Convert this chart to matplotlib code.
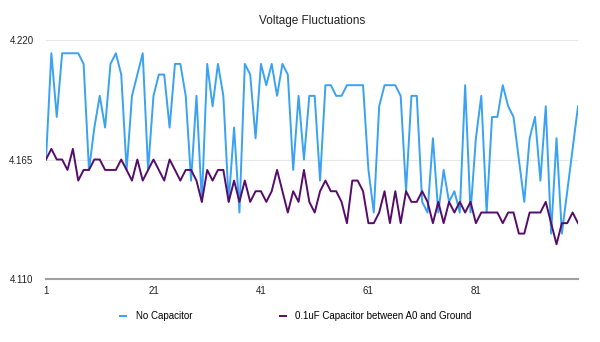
import matplotlib
matplotlib.use('Agg')
import matplotlib.pyplot as plt

plt.rcParams['font.family'] = ['Liberation Sans', 'DejaVu Sans']

# readings 1..100 (volts)
no_cap = [4.1650, 4.2139, 4.1846, 4.2139, 4.2139, 4.2139, 4.2139, 4.2090, 4.1602, 4.1797,
          4.1943, 4.1797, 4.2090, 4.2139, 4.2041, 4.1602, 4.1943, 4.2041, 4.2139, 4.1602,
          4.1943, 4.2041, 4.2041, 4.1797, 4.2090, 4.2090, 4.1943, 4.1553, 4.1943, 4.1455,
          4.2090, 4.1895, 4.2090, 4.1943, 4.1455, 4.1797, 4.1406, 4.2090, 4.2041, 4.1748,
          4.2090, 4.1992, 4.2090, 4.1943, 4.2090, 4.2041, 4.1602, 4.1943, 4.1650, 4.1943,
          4.1943, 4.1553, 4.1992, 4.1992, 4.1943, 4.1943, 4.1992, 4.1992, 4.1992, 4.1992,
          4.1602, 4.1406, 4.1895, 4.1992, 4.1992, 4.1992, 4.1943, 4.1504, 4.1943, 4.1943,
          4.1455, 4.1406, 4.1748, 4.1406, 4.1602, 4.1455, 4.1504, 4.1406, 4.1992, 4.1406,
          4.1748, 4.1943, 4.1406, 4.1846, 4.1846, 4.1992, 4.1895, 4.1846, 4.1650, 4.1455,
          4.1748, 4.1846, 4.1553, 4.1895, 4.1309, 4.1748, 4.1309, 4.1504, 4.1699, 4.1895]

with_cap = [4.1650, 4.1699, 4.1650, 4.1650, 4.1602, 4.1699, 4.1553, 4.1602, 4.1602, 4.1650,
            4.1650, 4.1602, 4.1602, 4.1602, 4.1650, 4.1602, 4.1553, 4.1650, 4.1553, 4.1602,
            4.1650, 4.1602, 4.1553, 4.1650, 4.1602, 4.1553, 4.1602, 4.1602, 4.1553, 4.1455,
            4.1602, 4.1553, 4.1602, 4.1602, 4.1455, 4.1553, 4.1455, 4.1553, 4.1455, 4.1504,
            4.1504, 4.1455, 4.1504, 4.1602, 4.1504, 4.1406, 4.1504, 4.1455, 4.1602, 4.1455,
            4.1406, 4.1504, 4.1553, 4.1504, 4.1504, 4.1455, 4.1357, 4.1553, 4.1553, 4.1504,
            4.1357, 4.1357, 4.1406, 4.1504, 4.1357, 4.1504, 4.1357, 4.1504, 4.1455, 4.1455,
            4.1504, 4.1455, 4.1357, 4.1455, 4.1357, 4.1455, 4.1406, 4.1455, 4.1406, 4.1455,
            4.1357, 4.1406, 4.1406, 4.1406, 4.1406, 4.1357, 4.1406, 4.1406, 4.1309, 4.1309,
            4.1406, 4.1406, 4.1406, 4.1455, 4.1357, 4.1260, 4.1357, 4.1357, 4.1406, 4.1357]

samples = list(range(1, len(no_cap) + 1))
x_ticks = [1, 21, 41, 61, 81]
y_ticks = [4.110, 4.165, 4.220]

fig = plt.figure(figsize=(6, 3.42), dpi=100)
ax = fig.add_axes([46 / 600, 1 - 279 / 342, 532 / 600, 239 / 342])

ax.plot(samples, no_cap, color='#3aa2f2', linewidth=1.4, label='No Capacitor')
ax.plot(samples, with_cap, color='#560c6b', linewidth=1.4, label='0.1uF Capacitor between A0 and Ground')

ax.set_xlim(1, 100)
ax.set_ylim(4.110, 4.220)
ax.set_xticks(x_ticks)
ax.set_yticks(y_ticks)
ax.set_yticklabels(['%.3f' % v for v in y_ticks])
ax.tick_params(length=0, labelsize=7, colors='#222222')
ax.tick_params(axis='y', pad=9)
ax.tick_params(axis='x', pad=5)
ax.grid(axis='y', color='#e6e6e6', linewidth=0.8)
ax.set_axisbelow(True)
for s in ['top', 'right', 'left']:
    ax.spines[s].set_visible(False)
ax.spines['bottom'].set_color('#a0a0a0')
ax.spines['bottom'].set_linewidth(1.5)

fig.text(312 / 600, 1 - 21 / 342, 'Voltage Fluctuations', ha='center', va='center', fontsize=8.5, color='#222222')

fig.legend(loc='center', bbox_to_anchor=(296 / 600, 1 - 316 / 342), ncol=2, frameon=False,
           fontsize=7, handlelength=0.6, handletextpad=1.0, columnspacing=9)

fig.savefig('out.png', dpi=100)
